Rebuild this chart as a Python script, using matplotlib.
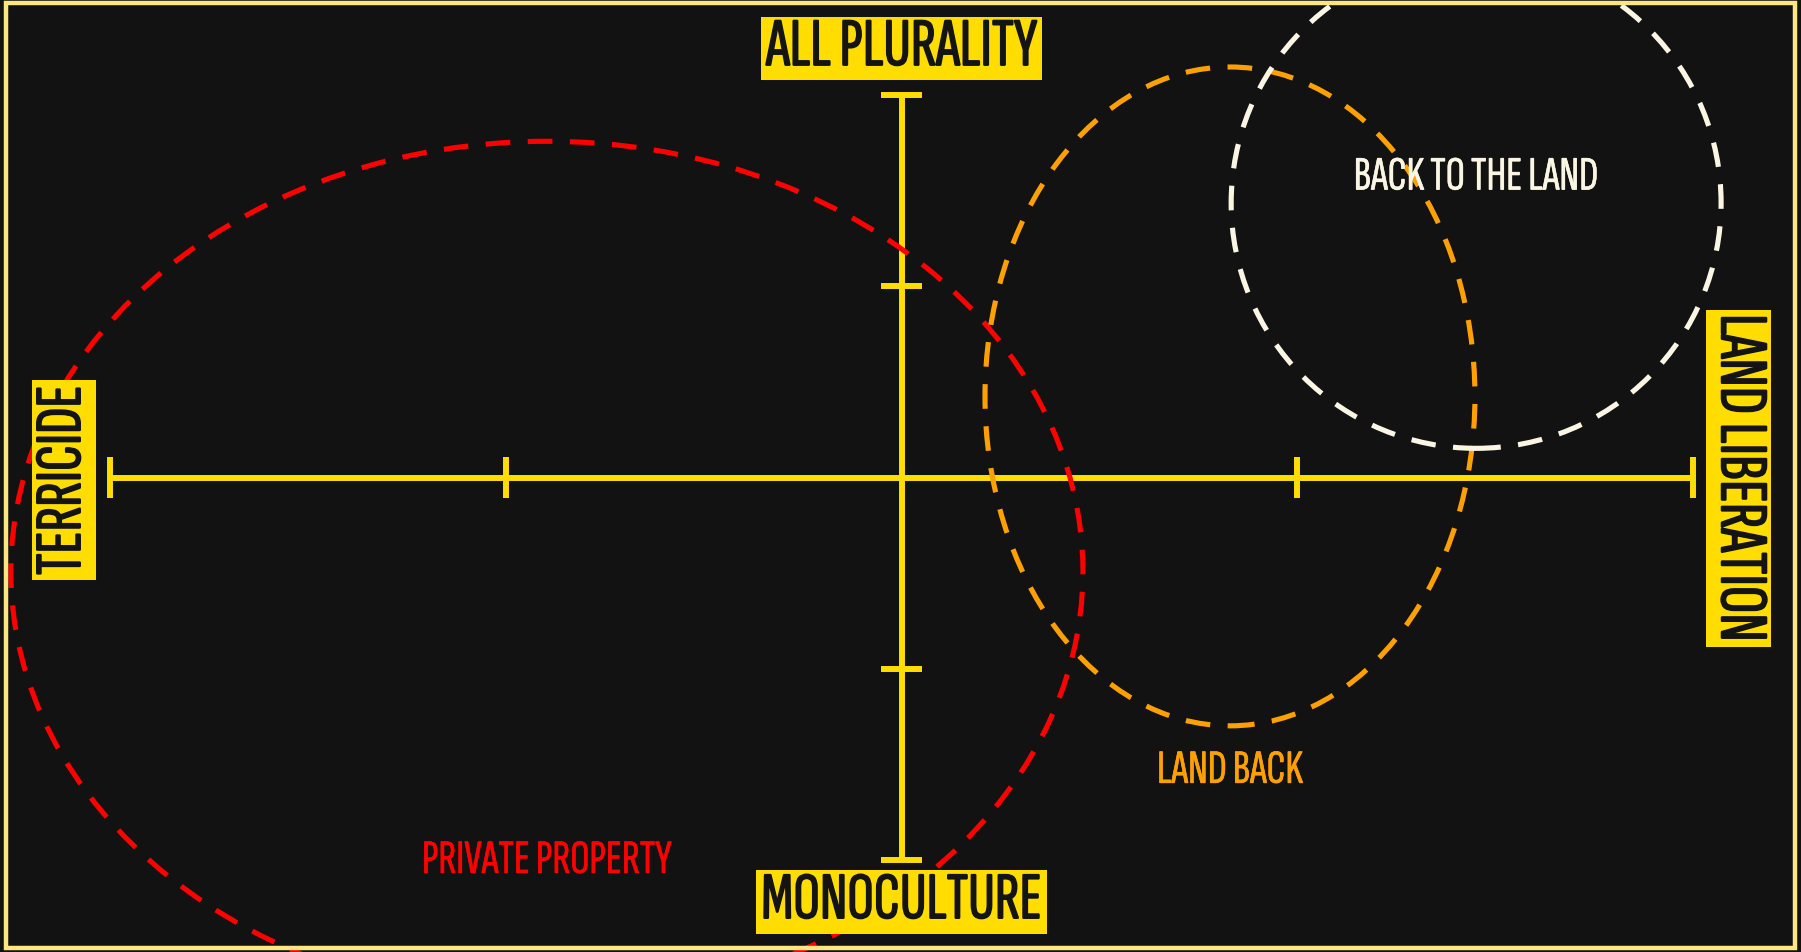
import matplotlib
matplotlib.use("Agg")
import matplotlib.pyplot as plt
from matplotlib.patches import Ellipse, Rectangle
from matplotlib import font_manager as fm
from matplotlib import patheffects as pe
from matplotlib.textpath import TextPath
from matplotlib.font_manager import FontProperties

# ---------------- data ----------------
x_ticks = [-2, -1, 0, 1, 2]
y_ticks = [-2, -1, 0, 1, 2]

axis_labels = ["ALL PLURALITY", "MONOCULTURE", "TERRICIDE", "LAND LIBERATION"]
# label box centres and sizes (data units)
axis_box_x = [0.0, 0.0, -2.117, 2.115]
axis_box_y = [2.245, -2.218, -0.013, -0.003]
axis_box_w = [0.710, 0.735, 0.162, 0.162]
axis_box_h = [0.330, 0.335, 1.046, 1.762]
axis_label_rot = [0, 0, 90, -90]

zone_names = ["PRIVATE PROPERTY", "LAND BACK", "BACK TO THE LAND"]
zone_center_x = [-0.896, 0.830, 1.452]
zone_center_y = [-0.492, 0.424, 1.435]
zone_width = [2.709, 1.238, 1.238]
zone_height = [4.50, 3.445, 2.565]
zone_label_x = [-0.896, 0.830, 1.452]
zone_label_y = [-2.005, -1.534, 1.568]
zone_colors = ["#FF0000", "#FFA000", "#FBF6E4"]

# ---------------- style ----------------
BG = "#121212"
YELLOW = "#FFDD00"
BORDER = "#FFE680"
INK = "#141414"
DPI = 100
UNIT_X = 395.75  # px per data unit
UNIT_Y = 191.25

# choose the narrowest condensed family installed
entries = fm.fontManager.ttflist
names = sorted({f.name for f in entries})
keys = ("Condensed", "Narrow", "Compressed", "Cond")
cands = [n for n in names if any(k in n for k in keys)] or ["DejaVu Sans"]

def width_of(fam):
    fp = FontProperties(family=fam)
    p = TextPath((0, 0), "ALL PLURALITY", size=100, prop=fp)
    return p.get_extents().width

cond = min(cands, key=width_of)

fig = plt.figure(figsize=(18.01, 9.53), dpi=DPI, facecolor=BG)
ax = fig.add_axes([0, 0, 1, 1])
ax.set_facecolor(BG)
ax.set_xlim(-2 - 110 / UNIT_X, 2 + (1801 - 1693) / UNIT_X)
ax.set_ylim(-2 - (953 - 861) / UNIT_Y, 2 + 96 / UNIT_Y)
ax.axis("off")

# border
ax.add_patch(Rectangle((0.0035, 0.004), 0.993, 0.992, transform=ax.transAxes,
                       fill=False, ec=BORDER, lw=3.2, zorder=5))

LW = 4.3
# axes lines
ax.plot([x_ticks[0], x_ticks[-1]], [0, 0], color=YELLOW, lw=LW, solid_capstyle="butt", zorder=3)
ax.plot([0, 0], [y_ticks[0], y_ticks[-1]], color=YELLOW, lw=LW, solid_capstyle="butt", zorder=3)
for xt in x_ticks:
    if xt != 0:
        ax.plot([xt, xt], [-20.5 / UNIT_Y, 20.5 / UNIT_Y], color=YELLOW, lw=LW,
                solid_capstyle="butt", zorder=3)
for yt in y_ticks:
    if yt != 0:
        ax.plot([-20.5 / UNIT_X, 20.5 / UNIT_X], [yt, yt], color=YELLOW, lw=LW,
                solid_capstyle="butt", zorder=3)

# zones
for cx, cy, w, h, c in zip(zone_center_x, zone_center_y, zone_width, zone_height, zone_colors):
    e = Ellipse((cx, cy), w, h, fill=False, ec=c, lw=3.7, ls=(0, (4.8, 3.4)),
                capstyle="butt", zorder=4)
    ax.add_patch(e)

fig.canvas.draw()
renderer = fig.canvas.get_renderer()

def fit(t, target_px, vertical=False):
    for _ in range(3):
        bb = t.get_window_extent(renderer)
        cur = bb.height if vertical else bb.width
        t.set_fontsize(t.get_fontsize() * target_px / cur)

zone_target = [250, 146, 245]
for name, lx, ly, c, tw in zip(zone_names, zone_label_x, zone_label_y, zone_colors, zone_target):
    t = ax.text(lx, ly, name, color=c, fontsize=30, family=cond, ha="center", va="center",
                zorder=6, path_effects=[pe.withStroke(linewidth=0.4, foreground=c)])
    fit(t, tw)

for lab, bx, by, bw, bh, rot in zip(axis_labels, axis_box_x, axis_box_y, axis_box_w,
                                     axis_box_h, axis_label_rot):
    ax.add_patch(Rectangle((bx - bw / 2, by - bh / 2), bw, bh, fc=YELLOW, ec="none", zorder=7))
    t = ax.text(bx, by, lab, color=INK, fontsize=40, family=cond,
                ha="center", va="center", rotation=rot, zorder=8,
                path_effects=[pe.withStroke(linewidth=1.1, foreground=INK)])
    if rot == 0:
        fit(t, bw * UNIT_X - 10)
    else:
        fit(t, bh * UNIT_Y - 10, vertical=True)

fig.savefig("out.png", dpi=DPI, facecolor=BG)
